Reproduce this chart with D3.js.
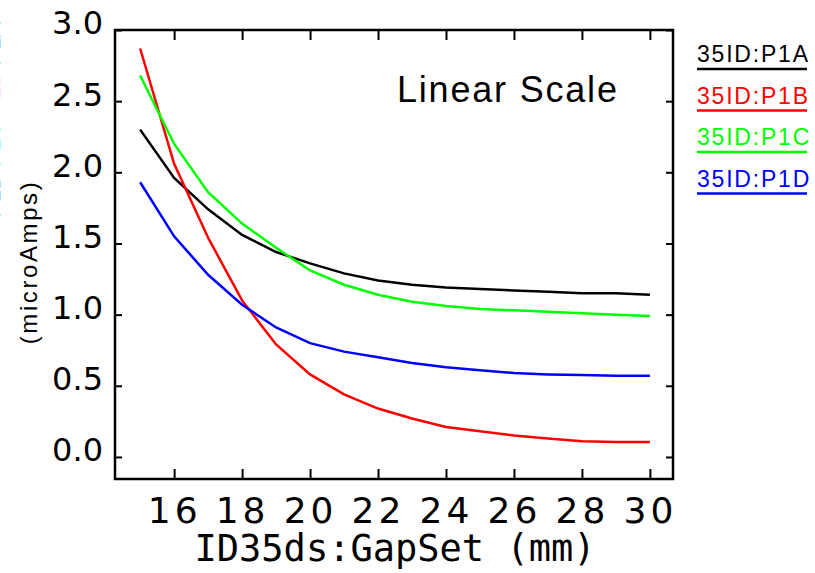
<!DOCTYPE html>
<html>
<head>
<meta charset="utf-8">
<script src="https://cdn.jsdelivr.net/npm/d3@7"></script>
<style>
  body { margin: 0; background: #fff; }
  svg { display: block; }
</style>
</head>
<body>
<script>
// gap values (mm)
var gaps = [15, 16, 17, 18, 19, 20, 21, 22, 23, 24, 25, 26, 27, 28, 29, 30];

// currents (microAmps)
var p1a = [2.30, 1.96, 1.74, 1.56, 1.44, 1.36, 1.29, 1.24, 1.21, 1.19, 1.18, 1.17, 1.16, 1.15, 1.15, 1.14];
var p1b = [2.87, 2.06, 1.54, 1.10, 0.79, 0.58, 0.44, 0.34, 0.27, 0.21, 0.18, 0.15, 0.13, 0.11, 0.105, 0.105];
var p1c = [2.68, 2.20, 1.86, 1.64, 1.47, 1.31, 1.21, 1.14, 1.09, 1.06, 1.04, 1.03, 1.02, 1.01, 1.00, 0.99];
var p1d = [1.93, 1.55, 1.28, 1.07, 0.91, 0.80, 0.74, 0.70, 0.66, 0.63, 0.61, 0.59, 0.58, 0.575, 0.57, 0.57];

var seriesNames = ["35ID:P1A", "35ID:P1B", "35ID:P1C", "35ID:P1D"];
var seriesColors = ["#000000", "#ff0000", "#00ff00", "#0000ff"];

var xTicks = [16, 18, 20, 22, 24, 26, 28, 30];
var yTicks = [0, 0.5, 1.0, 1.5, 2.0, 2.5, 3.0];

var W = 815, H = 573;
var frame = {left: 115, top: 30, right: 673, bottom: 479};

var svg = d3.select("body").append("svg")
    .attr("width", W)
    .attr("height", H);

svg.append("rect").attr("width", W).attr("height", H).attr("fill", "#fff");

var x = d3.scaleLinear().domain([14.26, 30.68]).range([frame.left, frame.right]);
var y = d3.scaleLinear().domain([-0.155, 3.0]).range([frame.bottom, frame.top]);

// curves
var line = d3.line()
    .x(function(d) { return x(d[0]); })
    .y(function(d) { return y(d[1]); });

[p1a, p1b, p1c, p1d].forEach(function(vals, i) {
  svg.append("path")
      .datum(gaps.map(function(g, j) { return [g, vals[j]]; }))
      .attr("fill", "none")
      .attr("stroke", seriesColors[i])
      .attr("stroke-width", 2.5)
      .attr("d", line);
});

// axes: ticks point inward on all four sides
var axisFont = "DejaVu Sans, sans-serif";

var bottom = svg.append("g")
    .attr("transform", "translate(0," + frame.bottom + ")")
    .call(d3.axisBottom(x).tickValues(xTicks).tickSize(-10).tickSizeOuter(0).tickFormat(d3.format("d")));
bottom.selectAll("text")
    .attr("y", 18).attr("dy", "0.71em")
    .style("font-family", axisFont).style("font-size", "36px")
    .style("letter-spacing", "4px").attr("fill", "#000");

var top = svg.append("g")
    .attr("transform", "translate(0," + frame.top + ")")
    .call(d3.axisTop(x).tickValues(xTicks).tickSize(-10).tickSizeOuter(0).tickFormat(""));

var left = svg.append("g")
    .attr("transform", "translate(" + frame.left + ",0)")
    .call(d3.axisLeft(y).tickValues(yTicks).tickSize(-7).tickSizeOuter(0).tickFormat(d3.format(".1f")));
left.selectAll("text")
    .attr("x", -12).attr("dy", "0.12em")
    .style("font-family", axisFont).style("font-size", "32px").attr("fill", "#000");

var right = svg.append("g")
    .attr("transform", "translate(" + frame.right + ",0)")
    .call(d3.axisRight(y).tickValues(yTicks).tickSize(-7).tickSizeOuter(0).tickFormat(""));

svg.selectAll(".domain").remove();
svg.selectAll(".tick line").attr("stroke", "#000").attr("stroke-width", 2);

svg.append("rect")
    .attr("x", frame.left).attr("y", frame.top)
    .attr("width", frame.right - frame.left).attr("height", frame.bottom - frame.top)
    .attr("fill", "none").attr("stroke", "#000").attr("stroke-width", 2.5);

// axis titles
svg.append("text")
    .attr("x", 395).attr("y", 561)
    .attr("text-anchor", "middle")
    .style("font-family", "DejaVu Sans Mono, monospace").style("font-size", "37px")
    .text("ID35ds:GapSet (mm)");

svg.append("text")
    .attr("transform", "translate(37,262) rotate(-90)")
    .attr("text-anchor", "middle")
    .style("font-family", "Liberation Sans, Arial, sans-serif").style("font-size", "24px")
    .style("letter-spacing", "2.6px")
    .text("(microAmps)");

// colored names of the y title, mostly cut off at the page edge
var yName = svg.append("text")
    .attr("transform", "translate(-0.5,120) rotate(-90)")
    .attr("text-anchor", "middle")
    .style("font-family", "Liberation Sans, Arial, sans-serif").style("font-size", "23px");
seriesNames.slice().reverse().forEach(function(n, i) {
  yName.append("tspan").attr("fill", seriesColors[3 - i]).text(n.slice(5) + " ");
});

// in-plot label
svg.append("text")
    .attr("x", 397).attr("y", 102)
    .style("font-family", "Liberation Sans, Arial, sans-serif").style("font-size", "36px")
    .style("letter-spacing", "1.8px")
    .text("Linear Scale");

// legend
var legend = svg.append("g").selectAll("g")
    .data(seriesNames)
    .enter().append("g")
    .attr("transform", function(d, i) { return "translate(697," + (62 + i * 41.5) + ")"; });
legend.append("text")
    .attr("fill", function(d, i) { return seriesColors[i]; })
    .style("font-family", "Liberation Sans, Arial, sans-serif").style("font-size", "23px")
    .style("letter-spacing", "1.8px")
    .text(function(d) { return d; });
legend.append("line")
    .attr("x1", 0).attr("x2", 110).attr("y1", 7).attr("y2", 7)
    .attr("stroke", function(d, i) { return seriesColors[i]; })
    .attr("stroke-width", 2.5);
</script>
</body>
</html>
